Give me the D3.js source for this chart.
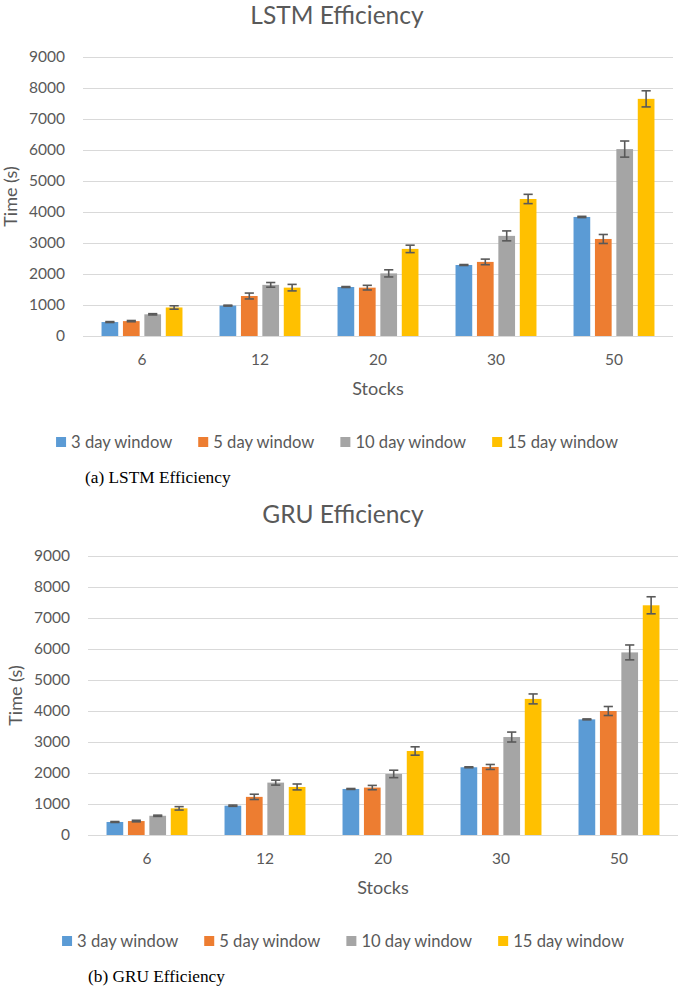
<!DOCTYPE html>
<html>
<head>
<meta charset="utf-8">
<script src="https://cdn.jsdelivr.net/npm/d3@7"></script>
<style>
  html, body { margin: 0; padding: 0; background: #ffffff; }
  svg { display: block; }
</style>
</head>
<body>
<script>
// ---------- data ----------
const categories = ["6", "12", "20", "30", "50"];
const seriesNames = ["3 day window", "5 day window", "10 day window", "15 day window"];
const seriesColors = ["#5B9BD5", "#ED7D31", "#A5A5A5", "#FFC000"];
const yTicks = [0, 1000, 2000, 3000, 4000, 5000, 6000, 7000, 8000, 9000];

// LSTM (s)
const lstm3 = [450, 980, 1580, 2290, 3840];
const lstm5 = [480, 1290, 1560, 2390, 3130];
const lstm10 = [700, 1650, 2020, 3230, 6030];
const lstm15 = [920, 1560, 2810, 4420, 7650];
const lstm3Err = [15, 15, 15, 15, 20];
const lstm5Err = [20, 95, 75, 90, 145];
const lstm10Err = [20, 75, 115, 160, 260];
const lstm15Err = [55, 105, 120, 150, 260];

// GRU (s)
const gru3 = [420, 945, 1485, 2185, 3730];
const gru5 = [450, 1230, 1530, 2195, 4000];
const gru10 = [620, 1690, 1970, 3160, 5890];
const gru15 = [860, 1550, 2710, 4390, 7410];
const gru3Err = [15, 20, 15, 15, 15];
const gru5Err = [25, 85, 70, 80, 145];
const gru10Err = [20, 80, 120, 160, 240];
const gru15Err = [55, 95, 135, 160, 275];

// ---------- drawing ----------
const W = 685, H = 987;
const svg = d3.select("body").append("svg").attr("width", W).attr("height", H);
const FONT = "Lato, 'Open Sans', sans-serif";
const TXT = "#595959";

function drawChart(cfg) {
  const g = svg.append("g");
  const y = d3.scaleLinear().domain([0, 9000]).range([cfg.y0, cfg.y9000]);
  const x0 = d3.scaleBand().domain(categories).range([cfg.left, cfg.right])
    .paddingInner(0.314).paddingOuter(0.157);
  const x1 = d3.scaleBand().domain(seriesNames).range([0, x0.bandwidth()]).paddingInner(0.22);

  // gridlines
  const grid = g.append("g").attr("transform", `translate(${cfg.left},0)`)
    .call(d3.axisLeft(y).tickValues(yTicks).tickSize(-(cfg.right - cfg.left)).tickFormat(""));
  grid.select(".domain").remove();
  grid.selectAll("line").attr("stroke", "#d9d9d9").attr("stroke-width", 1.2);

  // y tick labels
  const yl = g.append("g").attr("transform", `translate(${cfg.left},0)`)
    .call(d3.axisLeft(y).tickValues(yTicks).tickSize(0).tickPadding(cfg.left - cfg.labelRight).tickFormat(d3.format("d")));
  yl.select(".domain").remove();
  yl.selectAll("text").attr("font-family", FONT).attr("font-size", 15.5).attr("fill", TXT);

  // x tick labels
  const xl = g.append("g").attr("transform", `translate(0,${cfg.y0})`)
    .call(d3.axisBottom(x0).tickSize(0).tickPadding(18));
  xl.select(".domain").remove();
  xl.selectAll("text").attr("font-family", FONT).attr("font-size", 15.5).attr("fill", TXT);

  // bars
  const rows = [];
  cfg.series.forEach((vals, si) => {
    vals.forEach((v, ci) => rows.push({ s: seriesNames[si], si, c: categories[ci], v, e: cfg.errors[si][ci] }));
  });
  g.append("g").selectAll("rect").data(rows).join("rect")
    .attr("x", d => x0(d.c) + x1(d.s))
    .attr("y", d => y(d.v))
    .attr("width", x1.bandwidth())
    .attr("height", d => y(0) - y(d.v))
    .attr("fill", d => seriesColors[d.si]);

  // error bars
  const eb = g.append("g").attr("stroke", "#595959").attr("stroke-width", 1.6);
  const cap = 4.6;
  rows.forEach(d => {
    const cx = x0(d.c) + x1(d.s) + x1.bandwidth() / 2;
    const yt = y(d.v + d.e), yb = y(d.v - d.e);
    eb.append("line").attr("x1", cx).attr("x2", cx).attr("y1", yt).attr("y2", yb);
    eb.append("line").attr("x1", cx - cap).attr("x2", cx + cap).attr("y1", yt).attr("y2", yt);
    eb.append("line").attr("x1", cx - cap).attr("x2", cx + cap).attr("y1", yb).attr("y2", yb);
  });

  // title
  g.append("text").attr("x", cfg.center).attr("y", cfg.y0 - 312)
    .attr("text-anchor", "middle").attr("font-family", FONT).attr("font-size", 24.5)
    .attr("fill", TXT).text(cfg.title);

  // axis titles
  g.append("text").attr("x", (cfg.left + cfg.right) / 2).attr("y", cfg.y0 + 59)
    .attr("text-anchor", "middle").attr("font-family", FONT).attr("font-size", 18)
    .attr("fill", TXT).text("Stocks");
  g.append("text")
    .attr("transform", `translate(${cfg.ytitleX},${(cfg.y0 + cfg.y9000) / 2}) rotate(-90)`)
    .attr("text-anchor", "middle").attr("font-family", FONT).attr("font-size", 18)
    .attr("fill", TXT).text("Time (s)");

  // legend
  const lg = g.append("g");
  const items = seriesNames.map((n, i) => {
    const it = lg.append("g");
    it.append("rect").attr("width", 10).attr("height", 10).attr("y", -5).attr("fill", seriesColors[i]);
    const t = it.append("text").attr("x", 15).attr("dy", "0.35em").attr("font-family", FONT)
      .attr("font-size", 16.6).attr("fill", TXT).text(n);
    return { it, w: 15 + t.node().getComputedTextLength() };
  });
  const gap = 26;
  const total = d3.sum(items, d => d.w) + gap * (items.length - 1);
  let cx = cfg.center - total / 2;
  items.forEach(d => { d.it.attr("transform", `translate(${cx},${cfg.y0 + 106})`); cx += d.w + gap; });

  // caption
  svg.append("text").attr("x", cfg.captionX).attr("y", cfg.y0 + 147)
    .attr("font-family", "'Liberation Serif', 'DejaVu Serif', serif").attr("font-size", 17.3)
    .attr("fill", "#000").text(cfg.caption);
}

drawChart({
  title: "LSTM Efficiency", caption: "(a) LSTM Efficiency",
  series: [lstm3, lstm5, lstm10, lstm15], errors: [lstm3Err, lstm5Err, lstm10Err, lstm15Err],
  left: 83, right: 673, y0: 336, y9000: 57, labelRight: 65, ytitleX: 17, center: 337, captionX: 85
});
drawChart({
  title: "GRU Efficiency", caption: "(b) GRU Efficiency",
  series: [gru3, gru5, gru10, gru15], errors: [gru3Err, gru5Err, gru10Err, gru15Err],
  left: 88, right: 678, y0: 835, y9000: 556, labelRight: 70, ytitleX: 22, center: 343, captionX: 88
});
</script>
</body>
</html>
